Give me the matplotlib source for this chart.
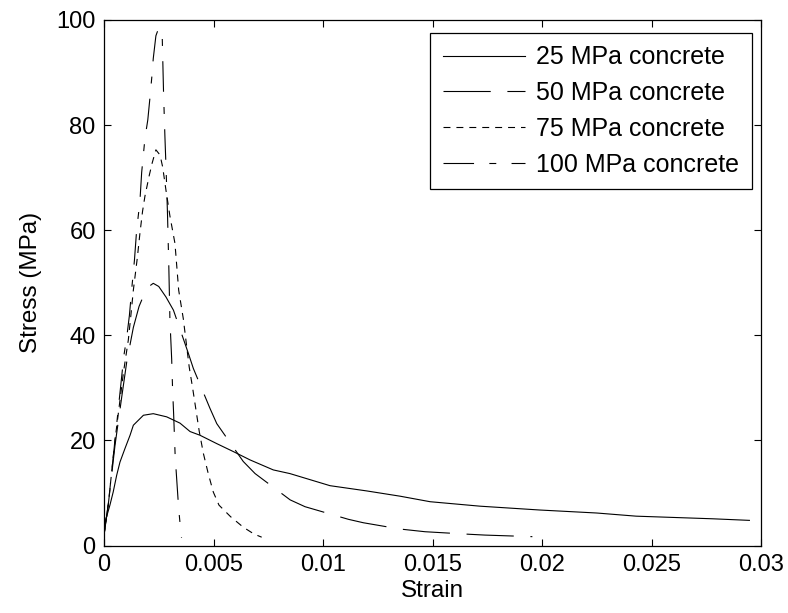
import numpy as np
import matplotlib
matplotlib.use('Agg')
import matplotlib.pyplot as plt

plt.rcParams['font.family'] = ['Liberation Sans', 'DejaVu Sans']
plt.rcParams['lines.scale_dashes'] = False

# stress-strain readings (strain, MPa)
strain_25 = [0, 0.00005, 0.00027, 0.00042, 0.00058, 0.00073, 0.00096, 0.00119,
             0.00134, 0.0018, 0.00225, 0.00286, 0.00347, 0.00393, 0.00438,
             0.00515, 0.0059, 0.00667, 0.00773, 0.00849, 0.01032, 0.012,
             0.01352, 0.01489, 0.01717, 0.0199, 0.0225, 0.0243, 0.0278, 0.02947]
stress_25 = [1.5, 4.5, 7.7, 10.2, 13.4, 15.9, 18.5, 21.0,
             22.9, 24.8, 25.1, 24.5, 23.3, 21.7, 21.0,
             19.4, 17.9, 16.3, 14.4, 13.7, 11.4, 10.4,
             9.4, 8.35, 7.5, 6.77, 6.2, 5.6, 5.1, 4.8]

strain_50 = [0, 0.0002, 0.0005, 0.0008, 0.00104, 0.00134, 0.0016, 0.0018,
             0.00205, 0.00225, 0.0025, 0.00283, 0.00317, 0.00385, 0.00408,
             0.00484, 0.00515, 0.00636, 0.0069, 0.0085, 0.00918, 0.01116,
             0.01184, 0.0135, 0.01466, 0.0167, 0.0174, 0.01956]
stress_50 = [2.0, 8.0, 19.0, 28.0, 35.0, 41.5, 45.5, 47.5,
             49.3, 49.9, 49.3, 47.3, 44.8, 36.6, 33.7,
             26.1, 23.2, 16.0, 13.7, 8.7, 7.4, 5.0,
             4.35, 3.16, 2.64, 2.15, 2.0, 1.7]

strain_75 = [0, 0.0002, 0.0005, 0.00089, 0.00111, 0.00122, 0.00134, 0.00152,
             0.00164, 0.00176, 0.00187, 0.00207, 0.0022, 0.00237, 0.00256,
             0.00268, 0.00283, 0.00301, 0.00324, 0.00341, 0.00362, 0.00374,
             0.00389, 0.00405, 0.0042, 0.00435, 0.00454, 0.00476, 0.00499,
             0.00525, 0.00578, 0.00636, 0.00685, 0.0072]
stress_75 = [2.0, 8.0, 20.0, 33.0, 39.1, 43.5, 48.6, 54.7,
             59.4, 63.6, 66.5, 70.5, 72.8, 75.3, 74.3,
             72.0, 67.6, 62.7, 57.5, 48.6, 43.2, 39.1,
             34.0, 29.9, 25.8, 21.7, 17.5, 13.7, 10.2,
             7.7, 5.5, 3.5, 2.2, 1.6]

strain_100 = [0, 0.0002, 0.0005, 0.00091, 0.00104, 0.00116, 0.00127, 0.00139,
              0.00149, 0.00164, 0.00172, 0.00187, 0.002, 0.0021, 0.00218,
              0.00225, 0.00237, 0.0025, 0.00266, 0.00272, 0.00278, 0.00284,
              0.0029, 0.00296, 0.00301, 0.00309, 0.00313, 0.00318, 0.00325,
              0.00333, 0.00341, 0.0035, 0.00354]
stress_100 = [2.0, 8.0, 20.0, 36.2, 39.7, 43.8, 49.0, 54.3,
              60.0, 65.5, 71.0, 77.5, 81.0, 85.3, 89.0,
              92.7, 97.0, 98.5, 96.6, 86.0, 78.0, 71.0,
              63.0, 53.0, 43.0, 35.5, 30.0, 25.0, 17.0,
              12.0, 7.0, 3.0, 1.5]

labels = ['25 MPa concrete', '50 MPa concrete', '75 MPa concrete', '100 MPa concrete']
x_ticks = [0, 0.005, 0.01, 0.015, 0.02, 0.025, 0.03]
x_ticklabels = ['0', '0.005', '0.01', '0.015', '0.02', '0.025', '0.03']
y_ticks = [0, 20, 40, 60, 80, 100]

fig = plt.figure(figsize=(7.88, 6.13), dpi=100)
ax = fig.add_axes([104 / 788, 1 - 545.6 / 613, 657 / 788, 525.6 / 613])

lw = 0.8
ax.plot(strain_25, stress_25, color='k', lw=lw, linestyle='-', label=labels[0])
ax.plot(strain_50, stress_50, color='k', lw=lw, linestyle=(0, (34, 12)), label=labels[1])
ax.plot(strain_75, stress_75, color='k', lw=lw, linestyle=(0, (5, 4.3)), label=labels[2])
ax.plot(strain_100, stress_100, color='k', lw=lw, linestyle=(0, (22, 11, 5, 11)), label=labels[3])

ax.set_xlim(0, 0.03)
ax.set_ylim(0, 100)
ax.set_xticks(x_ticks)
ax.set_xticklabels(x_ticklabels)
ax.set_yticks(y_ticks)
ax.tick_params(direction='in', length=5, width=0.8, top=True, right=True,
               labelsize=17, pad=6)
for s in ax.spines.values():
    s.set_linewidth(0.9)

ax.set_xlabel('Strain', fontsize=17.5, labelpad=3)
ax.set_ylabel('Stress (MPa)', fontsize=17.5, labelpad=10)

leg = ax.legend(loc='upper right', bbox_to_anchor=(0.9863, 0.9753), borderaxespad=0,
                fontsize=18, handlelength=3.3, handletextpad=0.45, borderpad=0.5,
                labelspacing=0.47, fancybox=False, framealpha=1, edgecolor='k')
leg.get_frame().set_linewidth(0.9)

fig.savefig('out.png', dpi=100)
